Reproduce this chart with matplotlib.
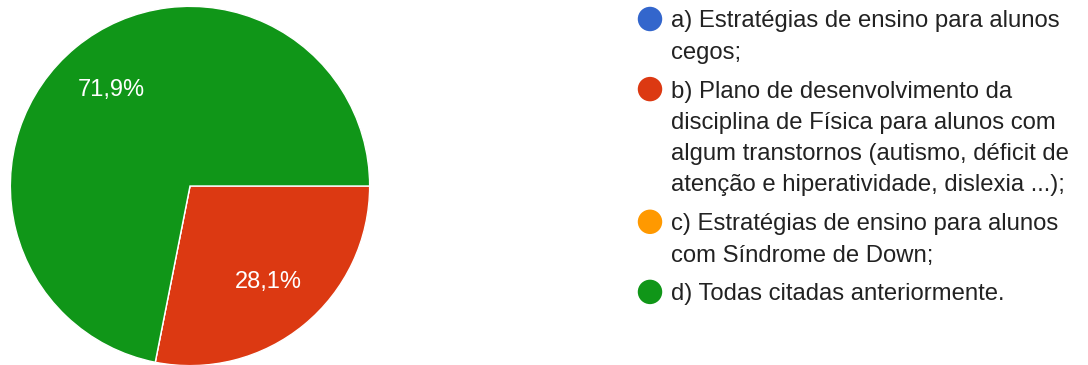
import matplotlib
matplotlib.use("Agg")
from matplotlib import pyplot as plt

# survey answers
labels = ["a) Estratégias de ensino para alunos\ncegos;",
          "b) Plano de desenvolvimento da\ndisciplina de Física para alunos com\nalgum transtornos (autismo, déficit de\natenção e hiperatividade, dislexia ...);",
          "c) Estratégias de ensino para alunos\ncom Síndrome de Down;",
          "d) Todas citadas anteriormente."]
values = [0, 28.1, 0, 71.9]
colors = ["#3366cc", "#dc3912", "#ff9900", "#109618"]

plt.rcParams['font.family'] = ['Liberation Sans', 'DejaVu Sans']

W, H = 1088, 365
fig = plt.figure(figsize=(W / 100, H / 100), dpi=100)

# pie: centre (190,186), radius 180 px
cx, cy, r = 190, 186, 180
ax = fig.add_axes([(cx - r) / W, (H - cy - r) / H, 2 * r / W, 2 * r / H])

def pct(p):
    if p < 0.05:
        return ''
    return f"{p:.1f}%".replace('.', ',')

wedges, texts, autotexts = ax.pie(values, colors=colors, startangle=0, counterclock=False,
                                  autopct=pct, pctdistance=0.69, radius=1,
                                  wedgeprops=dict(edgecolor='white', linewidth=1))
for t in autotexts:
    t.set_color('white')
    t.set_fontsize(17)
ax.set_xlim(-1.002, 1.002)
ax.set_ylim(-1.002, 1.002)
ax.set_aspect('equal')

# legend drawn in pixel coords
lax = fig.add_axes([0, 0, 1, 1])
lax.set_xlim(0, W)
lax.set_ylim(H, 0)
lax.axis('off')

line_h = 31.3
y = 19
for lab, col in zip(labels, colors):
    lax.scatter([650], [y], s=310, color=col, edgecolors='none')
    lines = lab.split('\n')
    for i, ln in enumerate(lines):
        lax.text(671, y + 8.5 + i * line_h, ln, fontsize=17.2, color='#222222',
                 va='baseline', ha='left')
    y += len(lines) * line_h + 7.5

fig.savefig('out.png', dpi=100)
